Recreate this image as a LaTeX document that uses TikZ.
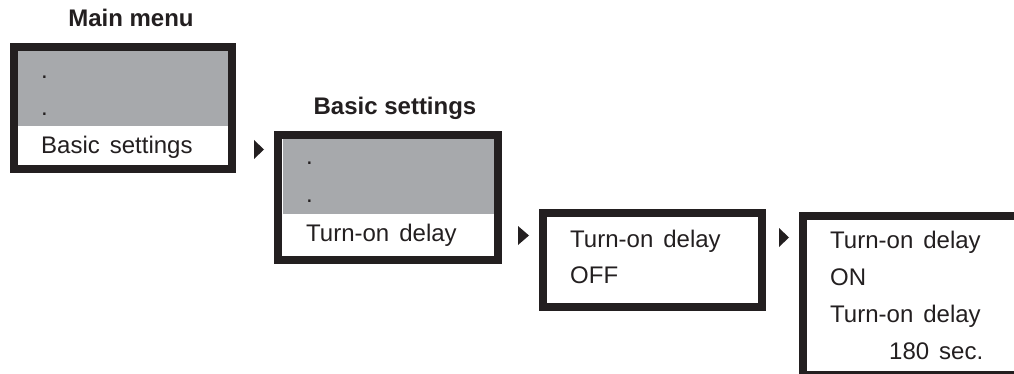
\documentclass[tikz,border=0pt]{standalone}
\usepackage{fontspec}
\setmainfont{Liberation Sans}
\newfontfamily\boxfont[WordSpace=1.5]{Liberation Sans}
\definecolor{ink}{HTML}{231F20}
\definecolor{panel}{HTML}{A7A9AC}
\tikzset{
  frame/.style={draw=ink, line width=8pt, rectangle, inner sep=0pt, fill=none},
  shade/.style={fill=panel},
  lbl/.style={anchor=base west, inner sep=0pt, text=ink, font=\boxfont\fontsize{24}{28}\selectfont},
  ttl/.style={anchor=base, inner sep=0pt, text=ink, font=\fontsize{24}{28}\selectfont\bfseries},
  pointer/.style={fill=ink}
}
\begin{document}
\begin{tikzpicture}[x=1pt,y=-1pt]
\clip (0,0) rectangle (1014,374);
\useasboundingbox (0,0) rectangle (1014,374);
% gray panels
\fill[shade] (18,51) rectangle (228,126);
\fill[shade] (283,139) rectangle (494,214);
% frames
\node[frame, minimum width=218pt, minimum height=122pt] (b1) at (123,108) {};
\node[frame, minimum width=220pt, minimum height=125pt] (b2) at (388,197.5) {};
\node[frame, minimum width=219pt, minimum height=94pt] (b3) at (652.5,260) {};
\node[frame, minimum width=240pt, minimum height=159pt] (b4) at (923,295.5) {};
% titles
\node[ttl] (t1) at (131,27) {Main menu};
\node[ttl] (t2) at (395,115) {Basic settings};
% box 1
\node[lbl] (d11) at (41,79) {.};
\node[lbl] (d12) at (41,116) {.};
\node[lbl] (s1) at (41,154) {Basic settings};
% box 2
\node[lbl] (d21) at (306,165) {.};
\node[lbl] (d22) at (306,203) {.};
\node[lbl] (s2) at (306,241) {Turn-on delay};
% box 3
\node[lbl] (s3a) at (570,247) {Turn-on delay};
\node[lbl] (s3b) at (570,283) {OFF};
% box 4
\node[lbl] (s4a) at (830,248) {Turn-on delay};
\node[lbl] (s4b) at (830,285) {ON};
\node[lbl] (s4c) at (830,322) {Turn-on delay};
\node[lbl] (s4d) at (889,359) {180 sec.};
% pointers
\fill[pointer] (254,140) -- (264,149.5) -- (254,159) -- cycle;
\fill[pointer] (518,226) -- (529,235.5) -- (518,245) -- cycle;
\fill[pointer] (779,228) -- (789,237.5) -- (779,247) -- cycle;
\end{tikzpicture}
\end{document}
